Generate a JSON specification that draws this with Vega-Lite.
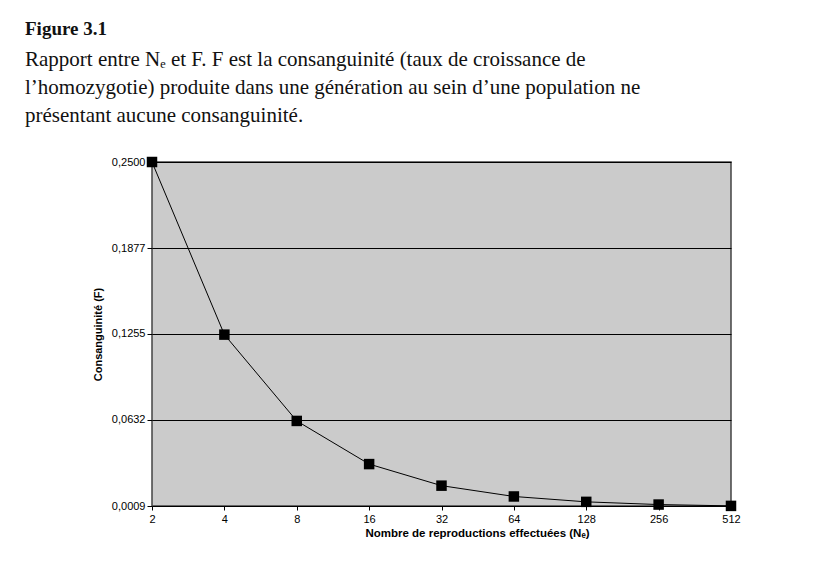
{
  "$schema": "https://vega.github.io/schema/vega-lite/v6.json",
  "autosize": {"type": "none"},
  "padding": {"left": 152, "top": 162, "right": 87, "bottom": 67},
  "width": 579,
  "height": 344,
  "background": "white",
  "title": {
    "text": "Figure 3.1",
    "subtitle": [
      "Rapport entre Nₑ et F. F est la consanguinité (taux de croissance de",
      "l’homozygotie) produite dans une génération au sein d’une population ne",
      "présentant aucune consanguinité."
    ],
    "anchor": "start",
    "frame": "group",
    "orient": "top",
    "dx": -127,
    "offset": 30,
    "font": "Liberation Serif",
    "fontSize": 19,
    "fontWeight": "bold",
    "color": "#111111",
    "subtitleFont": "Liberation Serif",
    "subtitleFontSize": 21,
    "subtitleColor": "#111111",
    "subtitleLineHeight": 28,
    "subtitlePadding": 10
  },
  "data": {
    "values": [
      {"Ne": "2", "F": 0.25},
      {"Ne": "4", "F": 0.125},
      {"Ne": "8", "F": 0.0625},
      {"Ne": "16", "F": 0.03125},
      {"Ne": "32", "F": 0.015625},
      {"Ne": "64", "F": 0.0078},
      {"Ne": "128", "F": 0.0039},
      {"Ne": "256", "F": 0.00195},
      {"Ne": "512", "F": 0.00098}
    ]
  },
  "encoding": {
    "x": {
      "field": "Ne",
      "type": "ordinal",
      "sort": null,
      "scale": {"type": "point", "padding": 0},
      "axis": {
        "title": "Nombre de reproductions effectuées (Nₑ)",
        "labelAngle": 0,
        "labelFont": "Liberation Sans",
        "labelFontSize": 11,
        "labelColor": "black",
        "labelPadding": 3,
        "tickColor": "black",
        "tickSize": 4,
        "domain": false,
        "grid": false,
        "titleFont": "Liberation Sans",
        "titleFontSize": 11.5,
        "titleFontWeight": "bold",
        "titleColor": "black",
        "titlePadding": 3,
        "titleX": 325
      }
    },
    "y": {
      "field": "F",
      "type": "quantitative",
      "scale": {"domain": [0.0009, 0.25], "nice": false, "zero": false},
      "axis": {
        "title": "Consanguinité (F)",
        "values": [0.0009, 0.0632, 0.1255, 0.1877, 0.25],
        "labelExpr": "replace(format(datum.value, '.4f'), '.', ',')",
        "labelFont": "Liberation Sans",
        "labelFontSize": 11,
        "labelColor": "black",
        "labelPadding": 2,
        "tickColor": "black",
        "tickSize": 5,
        "domain": false,
        "grid": true,
        "gridColor": "black",
        "gridOpacity": 1,
        "gridWidth": 1,
        "titleFont": "Liberation Sans",
        "titleFontSize": 11,
        "titleFontWeight": "bold",
        "titleColor": "black",
        "titlePadding": 8
      }
    }
  },
  "layer": [
    {"mark": {"type": "line", "color": "black", "strokeWidth": 1}},
    {"mark": {"type": "square", "color": "black", "opacity": 1, "filled": true, "size": 110}}
  ],
  "config": {
    "view": {"fill": "#cbcbcb", "stroke": "#444444", "strokeWidth": 1.5}
  }
}
